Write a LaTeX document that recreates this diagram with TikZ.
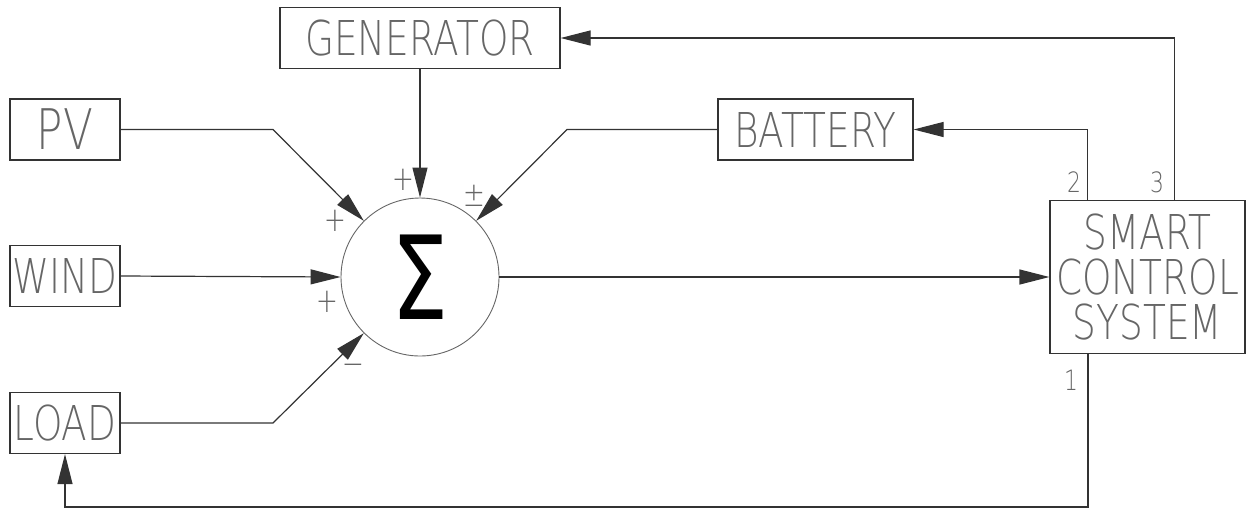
\documentclass[tikz,border=0pt]{standalone}
\usepackage{fontspec}
\usetikzlibrary{arrows.meta}
\usetikzlibrary{positioning}
\newfontfamily\cadfont[FakeStretch=0.78]{DejaVu Sans ExtraLight}
\newfontfamily\sigfont[FakeStretch=0.78]{DejaVu Sans}
\definecolor{cadline}{gray}{0.2}
\definecolor{cadtext}{gray}{0.4}

\tikzset{
  blk/.style={draw=cadline, line width=0.6pt, inner sep=0pt, text=cadtext,
    font=\cadfont\fontsize{24}{22.5}\selectfont, align=center},
  pfeil/.style={-{Triangle[length=15pt,width=7.5pt]}, line width=0.6pt, draw=cadline},
  vz/.style={text=cadtext, font=\cadfont\fontsize{17}{17}\selectfont, inner sep=0pt},
}

\begin{document}
\begin{tikzpicture}[x=0.5pt, y=-0.5pt] % 1 Einheit = 1 Pixel
\useasboundingbox (0,0) rectangle (1246,510);

% Bloecke
\node[blk, minimum width=140pt, minimum height=30.5pt] (gen) at (420,38) {GENERATOR};
\node[blk, minimum width=55pt, minimum height=30.5pt, font=\cadfont\fontsize{28}{28}\selectfont] (pv) at (65,129.5) {PV};
\foreach \n/\y/\t in {wind/276/WIND, load/423/LOAD}
  \node[blk, minimum width=55pt, minimum height=30.5pt] (\n) at (65,\y) {\t};
\node[blk, minimum width=97.5pt, minimum height=30.5pt] (bat) at (815.5,129.5) {BATTERY};
\node[blk, minimum width=97.5pt, minimum height=76.5pt] (scs) at (1147.5,277) {SMART\\CONTROL\\SYSTEM};

% Summierer
\node[circle, draw=black!60, line width=0.45pt, minimum size=79pt, inner sep=0pt,
  font=\sigfont\fontsize{58}{58}\selectfont] (sum) at (420,277) {Σ};

% Eingaenge
\coordinate (kpv) at (273,129.5);
\coordinate (kload) at (273,423);
\coordinate (kbat) at (567,129.5);
\draw[pfeil] (pv.east) -- (kpv) -- (sum.135);
\draw[pfeil] (wind.east) -- (sum.west);
\draw[pfeil] (load.east) -- (kload) -- (sum.225);
\draw[pfeil] (gen.south) -- (sum.north);
\draw[pfeil] (bat.west) -- (kbat) -- (sum.45);

% Ausgang
\draw[pfeil] (sum.east) -- (scs.west);

% Rueckfuehrung 1, 2, 3
\draw[pfeil] ([xshift=19pt]scs.north west) |- (bat.east);
\draw[pfeil] ([xshift=62.5pt]scs.north west) |- (gen.east);
\coordinate (unten) at (1088,507);
\draw[pfeil] (unten |- scs.south) -- (unten) -| (load.south);

% Vorzeichen
\foreach \i/\x/\y/\t in {1/403/180/+, 2/474/196/±, 3/335/221/+, 4/327/302/+, 5/353/370/−}
  \node[vz] (vz\i) at (\x,\y) {\t};

% Ausgangsnummern
\foreach \i/\x/\y in {1/1071/380, 2/1074/182, 3/1157/182}
  \node[vz, font=\cadfont\fontsize{14}{14}\selectfont] (nr\i) at (\x,\y) {\i};

\end{tikzpicture}
\end{document}
